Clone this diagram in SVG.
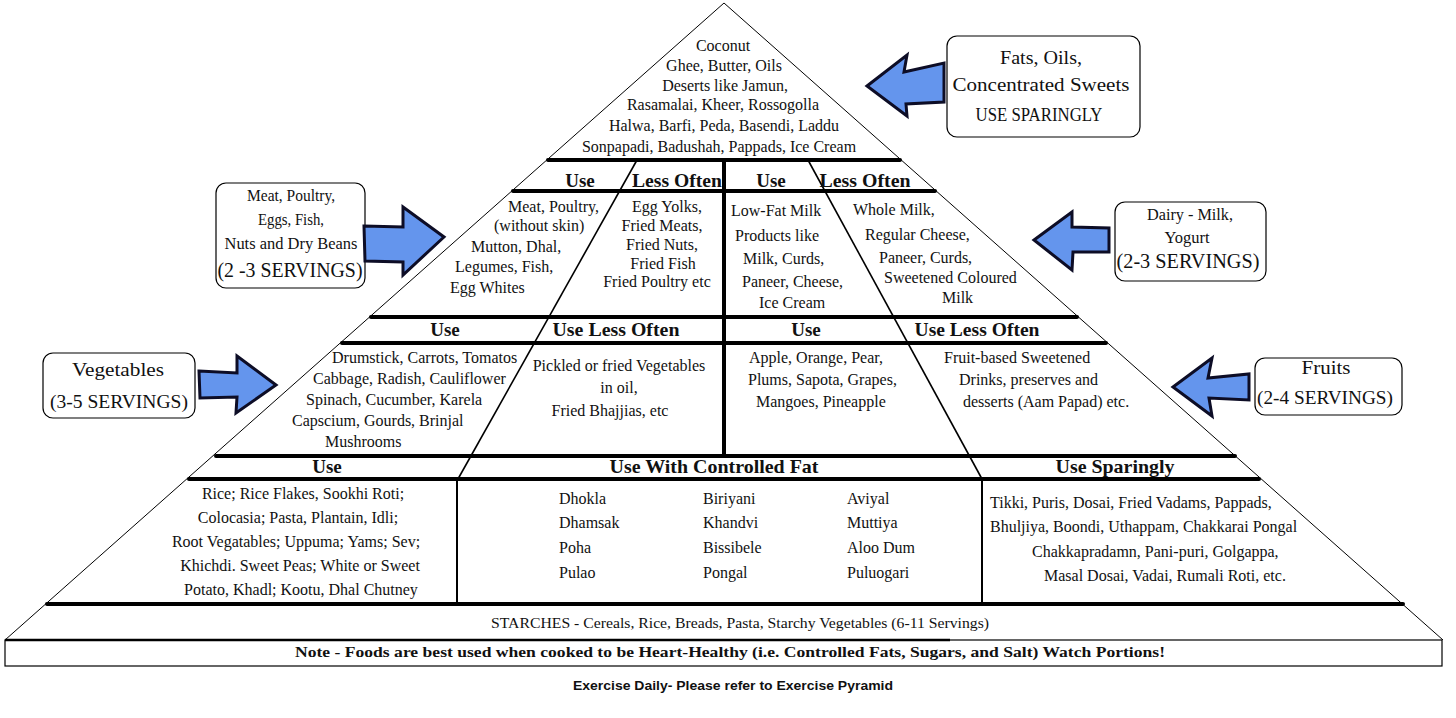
<svg xmlns="http://www.w3.org/2000/svg" width="1456" height="718" viewBox="0 0 1456 718">
<style>
text{font-family:"Liberation Serif","Times New Roman",serif;fill:#111;}
.b{font-size:16px;}
.m{text-anchor:middle;}
.h{font-size:19px;font-weight:bold;text-anchor:middle;}
.bx{font-size:19px;text-anchor:middle;}
.thick{stroke:#000;stroke-width:4;stroke-linecap:round;fill:none;}
.thin{stroke:#000;stroke-width:1;fill:none;}
.div{stroke:#000;stroke-width:1.6;fill:none;}
.box{fill:#fff;stroke:#000;stroke-width:1.2;}
.arrow{fill:#6495ED;stroke:#0d0d26;stroke-width:3;stroke-linejoin:miter;}
</style>
<rect width="1456" height="718" fill="#fff"/>

<g id="pyramid-frame">
<polyline class="thin" points="5,640 724,3 1443,640"/>
<line class="thick" x1="548" y1="160" x2="900" y2="160"/>
<line class="thick" x1="513" y1="191" x2="935" y2="191"/>
<line class="thick" x1="371" y1="317" x2="1077" y2="317"/>
<line class="thick" x1="342" y1="343" x2="1106" y2="343"/>
<line class="thick" x1="216" y1="456" x2="1235" y2="456"/>
<line class="thick" x1="189" y1="479" x2="1259" y2="479"/>
<line class="thick" x1="47" y1="604" x2="1403" y2="604"/>
<line stroke="#000" stroke-width="4" x1="724" y1="160" x2="724" y2="456"/>
<line class="div" x1="637" y1="160" x2="458" y2="479"/>
<line class="div" x1="808" y1="160" x2="982" y2="479"/>
<line stroke="#000" stroke-width="2" x1="457" y1="479" x2="457" y2="604"/>
<line stroke="#000" stroke-width="2" x1="982" y1="479" x2="982" y2="604"/>
</g>

<g id="tier-fats">
<text class="b m" x="723" y="51">Coconut</text>
<text class="b m" x="724" y="71">Ghee, Butter, Oils</text>
<text class="b m" x="725" y="91">Deserts like Jamun,</text>
<text class="b m" x="723" y="110">Rasamalai, Kheer, Rossogolla</text>
<text class="b m" x="724" y="131">Halwa, Barfi, Peda, Basendi, Laddu</text>
<text class="b m" x="719" y="152">Sonpapadi, Badushah, Pappads, Ice Cream</text>
</g>

<g id="tier-meat">
<text class="h" x="580" y="187">Use</text>
<text class="h" x="677" y="187" textLength="90" lengthAdjust="spacingAndGlyphs">Less Often</text>
<text class="b" x="508" y="212">Meat, Poultry,</text>
<text class="b" x="494" y="231">(without skin)</text>
<text class="b" x="471" y="252">Mutton, Dhal,</text>
<text class="b" x="455" y="272">Legumes, Fish,</text>
<text class="b" x="450" y="293">Egg Whites</text>
<text class="b m" x="667" y="212">Egg Yolks,</text>
<text class="b m" x="662" y="231">Fried Meats,</text>
<text class="b m" x="662" y="250">Fried Nuts,</text>
<text class="b m" x="663" y="269">Fried Fish</text>
<text class="b m" x="657" y="287">Fried Poultry etc</text>
</g>

<g id="tier-dairy">
<text class="h" x="771" y="187">Use</text>
<text class="h" x="865" y="187" textLength="91" lengthAdjust="spacingAndGlyphs">Less Often</text>
<text class="b" x="731" y="216">Low-Fat Milk</text>
<text class="b" x="735" y="241">Products like</text>
<text class="b" x="743" y="264">Milk, Curds,</text>
<text class="b" x="742" y="287">Paneer, Cheese,</text>
<text class="b" x="759" y="308">Ice Cream</text>
<text class="b" x="853" y="215">Whole Milk,</text>
<text class="b" x="865" y="240">Regular Cheese,</text>
<text class="b" x="879" y="263">Paneer, Curds,</text>
<text class="b" x="884" y="283">Sweetened Coloured</text>
<text class="b" x="942" y="303">Milk</text>
</g>

<g id="tier-vegetables">
<text class="h" x="445" y="336" font-size="18">Use</text>
<text class="h" x="616" y="336" textLength="127" lengthAdjust="spacingAndGlyphs">Use Less Often</text>
<text class="b" x="332" y="363">Drumstick, Carrots, Tomatos</text>
<text class="b" x="313" y="384">Cabbage, Radish, Cauliflower</text>
<text class="b" x="306" y="405">Spinach, Cucumber, Karela</text>
<text class="b" x="292" y="426">Capscium, Gourds, Brinjal</text>
<text class="b" x="325" y="447">Mushrooms</text>
<text class="b m" x="619" y="371">Pickled or fried Vegetables</text>
<text class="b m" x="619" y="393">in oil,</text>
<text class="b m" x="610" y="416">Fried Bhajjias, etc</text>
</g>

<g id="tier-fruits">
<text class="h" x="806" y="336">Use</text>
<text class="h" x="977" y="336" textLength="125" lengthAdjust="spacingAndGlyphs">Use Less Often</text>
<text class="b" x="749" y="363">Apple, Orange, Pear,</text>
<text class="b" x="748" y="385">Plums, Sapota, Grapes,</text>
<text class="b" x="756" y="407">Mangoes, Pineapple</text>
<text class="b" x="944" y="363">Fruit-based Sweetened</text>
<text class="b" x="959" y="385">Drinks, preserves and</text>
<text class="b" x="963" y="407">desserts (Aam Papad) etc.</text>
</g>

<g id="tier-starches">
<text class="h" x="327" y="473">Use</text>
<text class="h" x="714" y="473" textLength="209" lengthAdjust="spacingAndGlyphs">Use With Controlled Fat</text>
<text class="h" x="1115" y="473" textLength="119" lengthAdjust="spacingAndGlyphs">Use Sparingly</text>
<text class="b m" x="303" y="499">Rice; Rice Flakes, Sookhi Roti;</text>
<text class="b m" x="298" y="523">Colocasia; Pasta, Plantain, Idli;</text>
<text class="b m" x="296" y="547">Root Vegatables; Uppuma; Yams; Sev;</text>
<text class="b m" x="300" y="571">Khichdi. Sweet Peas; White or Sweet</text>
<text class="b m" x="301" y="595">Potato, Khadl; Kootu, Dhal Chutney</text>
<text class="b" x="559" y="504">Dhokla</text>
<text class="b" x="559" y="528">Dhamsak</text>
<text class="b" x="559" y="553">Poha</text>
<text class="b" x="559" y="578">Pulao</text>
<text class="b" x="703" y="504">Biriyani</text>
<text class="b" x="703" y="528">Khandvi</text>
<text class="b" x="703" y="553">Bissibele</text>
<text class="b" x="703" y="578">Pongal</text>
<text class="b" x="847" y="504">Aviyal</text>
<text class="b" x="847" y="528">Muttiya</text>
<text class="b" x="847" y="553">Aloo Dum</text>
<text class="b" x="847" y="578">Puluogari</text>
<text class="b" x="990" y="508">Tikki, Puris, Dosai, Fried Vadams, Pappads,</text>
<text class="b" x="990" y="532">Bhuljiya, Boondi, Uthappam, Chakkarai Pongal</text>
<text class="b" x="1032" y="557">Chakkapradamn, Pani-puri, Golgappa,</text>
<text class="b" x="1044" y="581">Masal Dosai, Vadai, Rumali Roti, etc.</text>
<text class="m" x="740" y="628" font-size="15" textLength="498" lengthAdjust="spacingAndGlyphs">STARCHES - Cereals, Rice, Breads, Pasta, Starchy Vegetables (6-11 Servings)</text>
</g>

<g id="note">
<rect x="5" y="640" width="1437" height="26" fill="none" stroke="#000" stroke-width="1.2"/>
<line x1="5" y1="640" x2="950" y2="640" stroke="#000" stroke-width="2.5"/>
<text class="m" x="730" y="657" font-size="15" font-weight="bold" textLength="870" lengthAdjust="spacingAndGlyphs">Note - Foods are best used when cooked to be Heart-Healthy (i.e. Controlled Fats, Sugars, and Salt) Watch Portions!</text>
</g>

<g id="exercise">
<text x="733" y="690" text-anchor="middle" font-size="13" font-weight="bold" style="font-family:'Liberation Sans',Arial,sans-serif" textLength="320" lengthAdjust="spacingAndGlyphs">Exercise Daily- Please refer to Exercise Pyramid</text>
</g>

<g id="box-fats">
<rect class="box" x="947" y="36" width="193" height="101" rx="10"/>
<text class="bx" x="1041" y="64" textLength="82" lengthAdjust="spacingAndGlyphs">Fats, Oils,</text>
<text class="bx" x="1041" y="91" textLength="177" lengthAdjust="spacingAndGlyphs">Concentrated Sweets</text>
<text class="bx" x="1039" y="121" textLength="127" lengthAdjust="spacingAndGlyphs">USE SPARINGLY</text>
</g>

<g id="box-meat">
<rect class="box" x="216" y="183" width="149" height="105" rx="10"/>
<text class="b m" x="291" y="201" textLength="88" lengthAdjust="spacingAndGlyphs">Meat, Poultry,</text>
<text class="b m" x="291" y="225" textLength="66" lengthAdjust="spacingAndGlyphs">Eggs, Fish,</text>
<text class="b m" x="291" y="249" textLength="133" lengthAdjust="spacingAndGlyphs">Nuts and Dry Beans</text>
<text class="m" x="290" y="277" font-size="21" textLength="145" lengthAdjust="spacingAndGlyphs">(2 -3 SERVINGS)</text>
</g>

<g id="box-dairy">
<rect class="box" x="1115" y="202" width="151" height="79" rx="10"/>
<text class="b m" x="1190" y="220" textLength="86" lengthAdjust="spacingAndGlyphs">Dairy - Milk,</text>
<text class="b m" x="1187" y="243" textLength="45" lengthAdjust="spacingAndGlyphs">Yogurt</text>
<text class="m" x="1188" y="268" font-size="20" textLength="143" lengthAdjust="spacingAndGlyphs">(2-3 SERVINGS)</text>
</g>

<g id="box-vegetables">
<rect class="box" x="43" y="353" width="152" height="65" rx="10"/>
<text class="bx" x="118" y="376" textLength="92" lengthAdjust="spacingAndGlyphs">Vegetables</text>
<text class="bx" x="119" y="408" textLength="138" lengthAdjust="spacingAndGlyphs">(3-5 SERVINGS)</text>
</g>

<g id="box-fruits">
<rect class="box" x="1255" y="358" width="147" height="57" rx="10"/>
<text class="bx" x="1326" y="374" textLength="49" lengthAdjust="spacingAndGlyphs">Fruits</text>
<text class="bx" x="1325" y="404" textLength="136" lengthAdjust="spacingAndGlyphs">(2-4 SERVINGS)</text>
</g>

<g id="connectors">
<polygon class="arrow" points="867,86 907,55 904,72 944,63 944,102 906,104 907,116"/>
<polygon class="arrow" points="364,226 403,227 403,207 444,237 403,275 403,262 365,261"/>
<polygon class="arrow" points="1034,240 1072,212 1072,227 1109,228 1109,252 1073,252 1072,270"/>
<polygon class="arrow" points="199,371 237,373 237,356 276,385 236,413 237,397 200,398"/>
<polygon class="arrow" points="1173,387 1212,358 1208,378 1249,374 1249,400 1209,398 1212,416"/>
</g>
</svg>
